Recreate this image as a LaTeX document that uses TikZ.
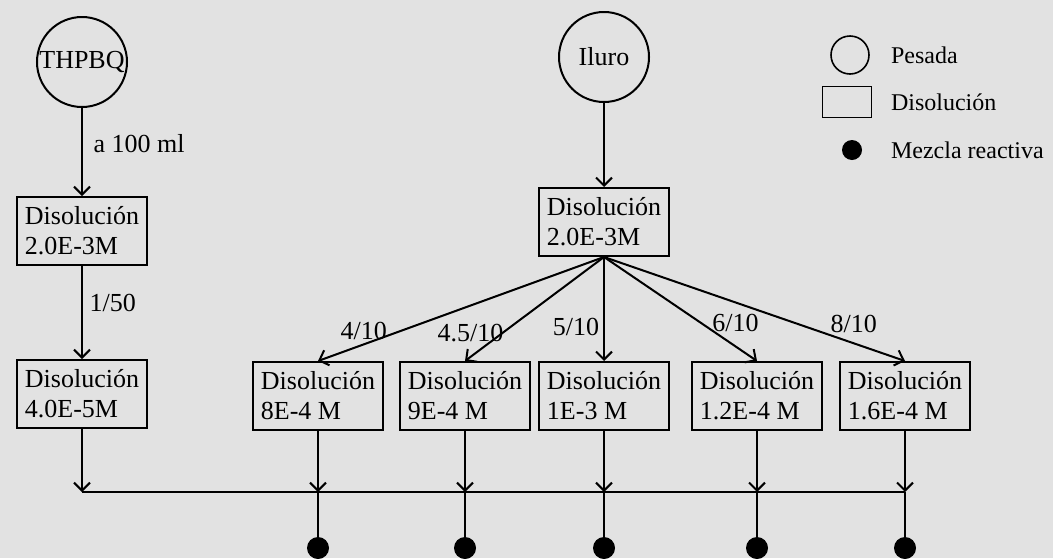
\documentclass[tikz,border=0pt]{standalone}
\usepackage{fontspec}
\setmainfont{Liberation Serif}
\usetikzlibrary{arrows.meta, positioning, calc}
\definecolor{papel}{RGB}{226,226,226}

\tikzset{
  pesada/.style={draw, circle, line width=1pt, minimum size=45pt, inner sep=0pt},
  disol/.style={draw, line width=1pt, align=left, inner xsep=4pt, inner ysep=3pt, minimum height=34pt},
  mezcla/.style={circle, fill=black, minimum size=11pt, inner sep=0pt},
  flecha/.style={->, line width=1pt},
  rotulo/.style={inner sep=2pt},
  leyenda/.style={anchor=west, font=\fontsize{12}{14}\selectfont},
}

\begin{document}
\begin{tikzpicture}[x=0.5pt, y=-0.5pt, >={Straight Barb[length=4pt,width=8pt]},
    every node/.style={font=\fontsize{13}{15}\selectfont}]
  \fill[papel] (0,0) rectangle (1053,558);
  \useasboundingbox (0,0) rectangle (1053,558);

  % pesadas y disoluciones madre
  \node[pesada] (thpbq) at (82,62) {THPBQ};
  \node[pesada] (iluro) at (604,57) {Iluro};
  \node[disol] (d1) at (82,231) {Disolución\\2.0E-3M};
  \node[disol] (d2) at (82,394) {Disolución\\4.0E-5M};
  \node[disol] (d0) at (604,222) {Disolución\\2.0E-3M};

  % diluciones del iluro
  \node[disol] (a) at (318,396) {Disolución\\8E-4 M};
  \node[disol] (b) at (465,396) {Disolución\\9E-4 M};
  \node[disol] (c) at (604,396) {Disolución\\1E-3 M};
  \node[disol] (d) at (757,396) {Disolución\\1.2E-4 M};
  \node[disol] (e) at (905,396) {Disolución\\1.6E-4 M};

  \draw[flecha] (thpbq) -- node[right, pos=0.4, xshift=2pt] {a 100 ml} (d1);
  \draw[flecha] (d1) -- node[right, pos=0.4] {1/50} (d2);
  \draw[flecha] (iluro) -- (d0);

  \draw[flecha] (d0.south) -- node[rotulo, pos=0.84, anchor=south] {4/10} (a.north);
  \draw[flecha] (d0.south) -- node[rotulo, pos=0.86, anchor=south, xshift=-7pt] {4.5/10} (b.north);
  \draw[flecha] (d0.south) -- node[rotulo, pos=0.67, left] {5/10} (c.north);
  \draw[flecha] (d0.south) -- node[rotulo, pos=0.86, anchor=south, yshift=5pt] {6/10} (d.north);
  \draw[flecha] (d0.south) -- node[rotulo, pos=0.83, anchor=south, yshift=3pt] {8/10} (e.north);

  % colector y mezclas reactivas
  \coordinate (bus) at (0,492);
  \coordinate (fila) at (0,548);
  \draw[line width=1pt] (d2.south |- bus) -- (e.south |- bus);
  \draw[flecha] (d2.south) -- (d2.south |- bus);
  \foreach \n in {a,b,c,d,e} {
    \node[mezcla] (m\n) at (\n.south |- fila) {};
    \draw[flecha] (\n.south) -- (\n.south |- bus);
    \draw[line width=1pt] (\n.south |- bus) -- (m\n);
  }

  % leyenda
  \node[pesada, minimum size=19pt, line width=0.8pt] (lp) at (850,55) {};
  \node[draw, line width=0.8pt, minimum width=24.5pt, minimum height=15.5pt, inner sep=0pt] (ld) at (847,102) {};
  \node[mezcla, minimum size=10pt] (lm) at (852,150) {};
  \node[leyenda] (tp) at (884,55) {Pesada};
  \node[leyenda] (td) at (884,102) {Disolución};
  \node[leyenda] (tm) at (884,150) {Mezcla reactiva};
\end{tikzpicture}
\end{document}
